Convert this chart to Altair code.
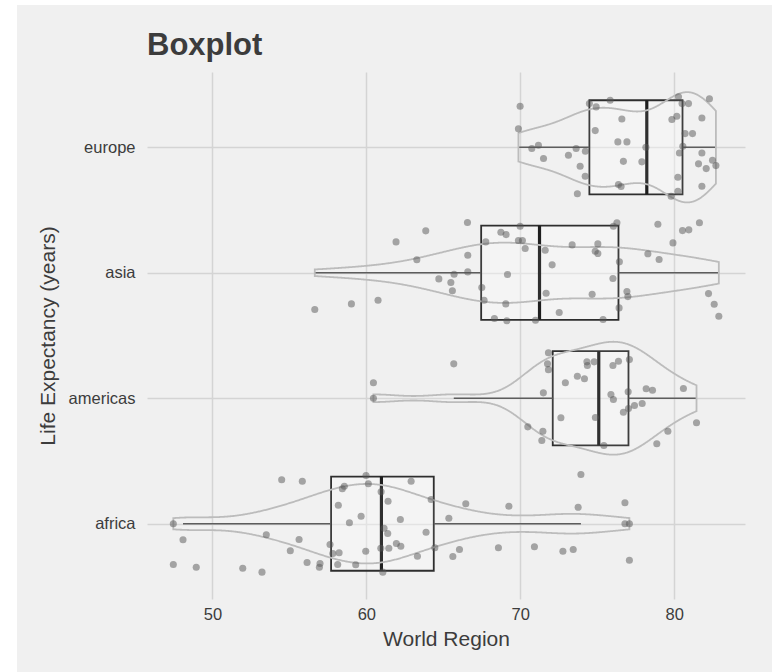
import numpy as np
import pandas as pd
import altair as alt

# Life expectancy by world region: one value per country, plus the vertical
# jitter offset (in category units) each point is drawn with.
regions = ["africa", "americas", "asia", "europe"]

africa_life = [54.50, 55.84, 59.98, 60.13, 58.57, 58.44, 58.18, 59.66, 58.90, 60.96,
               61.41, 62.91, 64.21, 62.21, 61.15, 61.39, 63.88, 61.95, 62.24, 61.46,
               60.94, 59.96, 63.32, 64.45, 61.07, 59.31, 58.14, 58.23, 57.64, 57.82,
               56.99, 56.95, 56.15, 55.06, 55.63, 53.50, 53.22, 51.97, 48.95, 47.46,
               48.09, 65.36, 66.46, 66.05, 65.62, 69.26, 68.58, 70.92, 72.77, 73.44,
               73.76, 73.94, 76.80, 77.09]
africa_jit = [0.350, 0.339, 0.384, 0.318, 0.299, 0.278, 0.147, 0.060, 0.007, 0.254,
              0.179, 0.339, 0.193, 0.033, -0.036, -0.078, -0.068, -0.158, -0.179, -0.195,
              -0.195, -0.219, -0.259, -0.192, -0.386, -0.327, -0.325, -0.232, -0.166, -0.237,
              -0.317, -0.347, -0.309, -0.216, -0.126, -0.088, -0.386, -0.355, -0.347, -0.325,
              -0.128, 0.044, 0.159, -0.206, -0.261, 0.139, -0.192, -0.184, -0.219, -0.205,
              0.131, 0.392, 0.167, -0.291]

americas_life = [60.46, 65.68, 70.49, 71.50, 71.47, 71.40, 71.83, 71.77, 71.83, 72.64,
                 72.93, 73.71, 74.17, 74.33, 74.36, 74.80, 74.88, 75.43, 75.89, 76.05,
                 76.02, 76.38, 76.70, 77.03, 77.01, 77.09, 77.42, 77.92, 78.18, 78.59,
                 79.59, 78.87, 80.60, 81.45]
americas_jit = [0.123, 0.274, -0.228, 0.043, -0.263, -0.337, 0.362, 0.274, 0.228, -0.156,
                0.123, 0.175, 0.155, 0.290, 0.261, 0.290, -0.154, -0.377, 0.029, -0.010,
                0.261, 0.295, -0.112, -0.082, 0.051, 0.308, -0.058, -0.042, 0.075, 0.064,
                -0.263, -0.363, 0.077, -0.196]

asia_life = [66.57, 63.86, 61.93, 63.28, 66.59, 66.59, 65.70, 64.71, 65.49, 65.59,
             60.76, 59.03, 56.65, 67.50, 67.65, 67.76, 68.74, 69.08, 69.99, 69.88,
             70.14, 70.32, 69.17, 69.06, 68.32, 69.13, 70.99, 71.62, 72.07, 71.68,
             72.53, 73.37, 75.04, 74.87, 75.04, 74.67, 75.38, 76.05, 76.28, 76.44,
             76.02, 76.93, 76.99, 76.42, 78.29, 79.02, 78.94, 79.92, 80.54, 80.95,
             81.64, 82.23, 82.60, 82.90]
asia_jit = [0.400, 0.334, 0.246, 0.103, 0.139, 0.007, -0.012, -0.049, -0.078, -0.144,
            -0.219, -0.248, -0.293, -0.118, -0.219, 0.246, 0.323, 0.304, 0.371, 0.257,
            0.257, 0.193, -0.014, -0.248, -0.365, -0.383, -0.378, 0.179, 0.063, -0.163,
            -0.317, 0.222, 0.230, 0.171, 0.153, -0.171, -0.373, 0.371, 0.398, 0.087,
            -0.046, -0.150, -0.190, -0.280, 0.151, 0.105, 0.386, 0.238, 0.336, 0.342,
            0.398, -0.166, -0.251, -0.347]

europe_life = [69.99, 69.88, 70.75, 71.18, 71.51, 73.13, 73.63, 73.89, 74.23, 74.22,
               73.71, 74.49, 74.93, 75.84, 76.60, 74.87, 76.34, 76.93, 76.70, 76.38,
               76.55, 77.90, 78.16, 79.85, 80.17, 80.28, 80.93, 82.29, 81.80, 80.71,
               81.19, 80.56, 80.34, 81.80, 81.58, 82.08, 82.49, 82.71, 80.24, 81.80,
               80.24, 79.80, 80.51]
europe_jit = [0.327, 0.147, -0.010, 0.016, -0.090, -0.064, -0.010, -0.151, -0.032, -0.231,
              -0.371, 0.348, 0.322, 0.375, 0.226, 0.133, 0.043, 0.043, -0.112, -0.297,
              -0.313, -0.116, 0.000, 0.221, 0.247, 0.402, 0.348, 0.386, 0.234, 0.109,
              0.109, 0.008, -0.045, -0.045, -0.132, -0.170, -0.104, -0.146, -0.239, -0.311,
              -0.351, -0.390, 0.348]

# Box statistics per region (same order as `regions`)
box_q1 = [57.71, 72.11, 67.46, 74.49]
box_median = [60.98, 75.10, 71.25, 78.22]
box_q3 = [64.38, 77.03, 76.38, 80.54]

life = [africa_life, americas_life, asia_life, europe_life]
jit = [africa_jit, americas_jit, asia_jit, europe_jit]

BOX_HALF = 0.375      # box width 0.75 of a category
VIOLIN_HALF = 0.45    # widest violin spans 0.9 of a category

# ---- tables -------------------------------------------------------------
point_rows, stat_rows, outlier_rows, violin_rows = [], [], [], []


def nrd0(x):
    x = np.asarray(x, dtype=float)
    sd = x.std(ddof=1)
    iqr = np.subtract(*np.percentile(x, [75, 25]))
    lo = min(sd, iqr / 1.34) if iqr > 0 else sd
    return 0.9 * lo * len(x) ** -0.2


densities = []
for i, (name, vals, offs) in enumerate(zip(regions, life, jit)):
    idx = i + 1
    vals = np.asarray(vals, dtype=float)
    for v, o in zip(vals, offs):
        point_rows.append({"region": name, "value": v, "y": idx + o})

    q1, med, q3 = box_q1[i], box_median[i], box_q3[i]
    iqr = q3 - q1
    lo_f, hi_f = q1 - 1.5 * iqr, q3 + 1.5 * iqr
    inside = vals[(vals >= lo_f) & (vals <= hi_f)]
    stat_rows.append({"region": name, "idx": idx, "q1": q1, "med": med, "q3": q3,
                      "lo": inside.min(), "hi": inside.max(),
                      "ylo": idx - BOX_HALF, "yhi": idx + BOX_HALF})
    for v in vals[(vals < lo_f) | (vals > hi_f)]:
        outlier_rows.append({"region": name, "value": v, "y": idx})

    # Gaussian kernel density, trimmed to the data range
    bw = nrd0(vals)
    grid = np.linspace(vals.min(), vals.max(), 512)
    dens = np.exp(-0.5 * ((grid[:, None] - vals[None, :]) / bw) ** 2).sum(axis=1)
    dens /= len(vals) * bw * np.sqrt(2 * np.pi)
    densities.append((name, idx, grid, dens))

gmax = max(d.max() for _, _, _, d in densities)
for name, idx, grid, dens in densities:
    w = dens / gmax * VIOLIN_HALF
    for g, h in zip(grid, w):
        violin_rows.append({"region": name, "value": g, "vlo": idx - h, "vhi": idx + h})

points = pd.DataFrame(point_rows)
stats = pd.DataFrame(stat_rows)
outliers = pd.DataFrame(outlier_rows)
violins = pd.DataFrame(violin_rows)

# ---- scales / axes --------------------------------------------------------
FONT = "Liberation Sans"
TEXT = "#3c3c3c"
BG = "#f0f0f0"

x_scale = alt.Scale(domain=[45.75, 84.6], nice=False, zero=False)
y_scale = alt.Scale(domain=[0.4, 4.6], nice=False, zero=False)
label_expr = "[" + ",".join(f"'{r}'" for r in regions) + "][datum.value - 1]"
x_axis = alt.Axis(values=[50, 60, 70, 80], title="World Region", labelPadding=7,
                  titlePadding=6)
y_axis = alt.Axis(values=[1, 2, 3, 4], labelExpr=label_expr,
                  title="Life Expectancy (years)", labelPadding=12, titlePadding=10)


def X(field):
    return alt.X(field, type="quantitative", scale=x_scale, axis=x_axis)


def Y(field):
    return alt.Y(field, type="quantitative", scale=y_scale, axis=y_axis)


# white page margin around the grey panel (outside the plot area)
margins = alt.Chart(alt.Data(values=[{"x": -147, "x2": -130, "y": -72, "y2": 600},
                                     {"x": -147, "x2": 631, "y": -72, "y2": -67},
                                     {"x": 625, "x2": 631, "y": -72, "y2": 600}])).mark_rect(
    color="white").encode(
    x=alt.X("x:Q", scale=None), x2="x2:Q",
    y=alt.Y("y:Q", scale=None), y2="y2:Q")

title = alt.Chart(alt.Data(values=[{"t": "Boxplot"}])).mark_text(
    font=FONT, fontSize=31, fontWeight="bold", color=TEXT, align="left",
    baseline="alphabetic").encode(x=alt.value(0), y=alt.value(-17), text="t:N")

box = alt.Chart(stats).mark_rect(fill="white", fillOpacity=0.3, stroke="#2e2e2e",
                                 strokeWidth=1.8).encode(
    x=X("q1"), x2="q3", y=Y("ylo"), y2="yhi")

whisker_lo = alt.Chart(stats).mark_rule(color="#505050", strokeWidth=1.6).encode(
    x=X("lo"), x2="q1", y=Y("idx"))
whisker_hi = alt.Chart(stats).mark_rule(color="#505050", strokeWidth=1.6).encode(
    x=X("q3"), x2="hi", y=Y("idx"))
median = alt.Chart(stats).mark_rule(color="#1e1e1e", strokeWidth=3.2).encode(
    x=X("med"), y=Y("ylo"), y2="yhi")

violin = alt.Chart(violins).mark_area(fill="white", fillOpacity=0.08, stroke="#bcbcbc",
                                      strokeWidth=1.8).encode(
    x=X("value"), y=Y("vlo"), y2="vhi", detail="region:N")

dots = alt.Chart(points).mark_circle(size=50, color="#555555", opacity=0.5).encode(
    x=X("value"), y=Y("y"))

outlier_dots = alt.Chart(outliers).mark_circle(size=50, color="#555555", opacity=0.5).encode(
    x=X("value"), y=Y("y"))

chart = alt.layer(margins, title, box, whisker_lo, whisker_hi, median, violin, dots,
                  outlier_dots).properties(
    width=598, height=527,
    autosize=alt.AutoSizeParams(type="none"),
    padding={"left": 147, "top": 72, "right": 33, "bottom": 73},
).configure(
    background=BG,
).configure_view(
    stroke=None, fill=None,
).configure_axis(
    labelFont=FONT, labelFontSize=16.5, labelColor=TEXT,
    titleFont=FONT, titleFontSize=21, titleFontWeight="normal", titleColor=TEXT,
    domain=False, ticks=False, tickSize=0,
    grid=True, gridColor="#d4d4d4", gridWidth=1.5,
)

chart.save("out.html", embed_options={"renderer": "svg", "actions": False})
